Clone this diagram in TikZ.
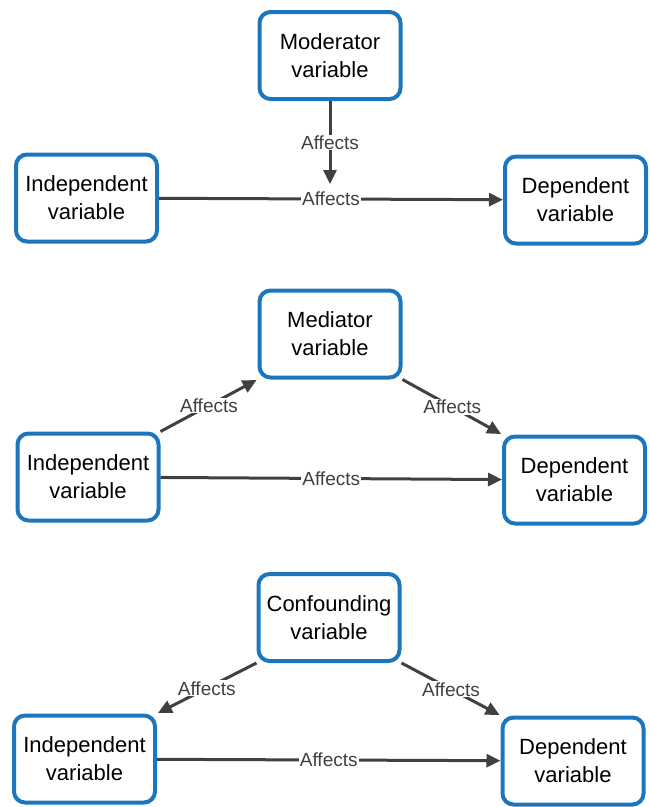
\documentclass[tikz,border=0pt]{standalone}
\usepackage{fontspec}
\setmainfont{Liberation Sans}
\usetikzlibrary{arrows.meta}
\definecolor{boxblau}{HTML}{1B76BD}
\definecolor{pfeilgrau}{HTML}{404040}

\begin{document}
\begin{tikzpicture}[x=1pt, y=-1pt,
    var/.style={draw=boxblau, line width=4pt, rounded corners=11pt,
        minimum width=141pt, minimum height=87pt, align=center,
        font=\fontsize{22}{28}\selectfont, inner sep=2pt},
    pfeil/.style={draw=pfeilgrau, line width=3pt,
        -{Triangle[length=14pt,width=13pt]}},
    lbl/.style={fill=white, text=pfeilgrau, inner sep=1pt,
        font=\fontsize{19}{20}\selectfont}]
\useasboundingbox (0,0) rectangle (650,807);
% oben: Moderator
\node[var] (mod)  at (330,55.5)  {Moderator\\variable};
\node[var] (ind1) at (86.5,198)  {Independent\\variable};
\node[var] (dep1) at (575.5,200) {Dependent\\variable};
\coordinate (ziel1) at (330,184); % Pfeilspitze ueber der Linie
\draw[pfeil] (mod) -- node[lbl] {Affects} (ziel1);
\draw[pfeil] (ind1) -- node[lbl] {Affects} (dep1);
% Mitte: Mediator
\node[var] (med)  at (330,334)   {Mediator\\variable};
\node[var] (ind2) at (88,477)    {Independent\\variable};
\node[var] (dep2) at (574.5,480) {Dependent\\variable};
\draw[pfeil, shorten >=1pt] (ind2.north east) -- node[lbl] {Affects} (med.south west);
\draw[pfeil, shorten >=1pt] (med.south east) -- node[lbl] {Affects} (dep2.north west);
\draw[pfeil] (ind2) -- node[lbl] {Affects} (dep2);
% unten: Confounder
\node[var] (conf) at (329,617.5) {Confounding\\variable};
\node[var] (ind3) at (84.5,759)  {Independent\\variable};
\node[var] (dep3) at (573,761)   {Dependent\\variable};
\draw[pfeil, shorten >=1pt] (conf.south west) -- node[lbl] {Affects} (ind3.north east);
\draw[pfeil, shorten >=1pt] (conf.south east) -- node[lbl] {Affects} (dep3.north west);
\draw[pfeil] (ind3) -- node[lbl] {Affects} (dep3);
\end{tikzpicture}
\end{document}
